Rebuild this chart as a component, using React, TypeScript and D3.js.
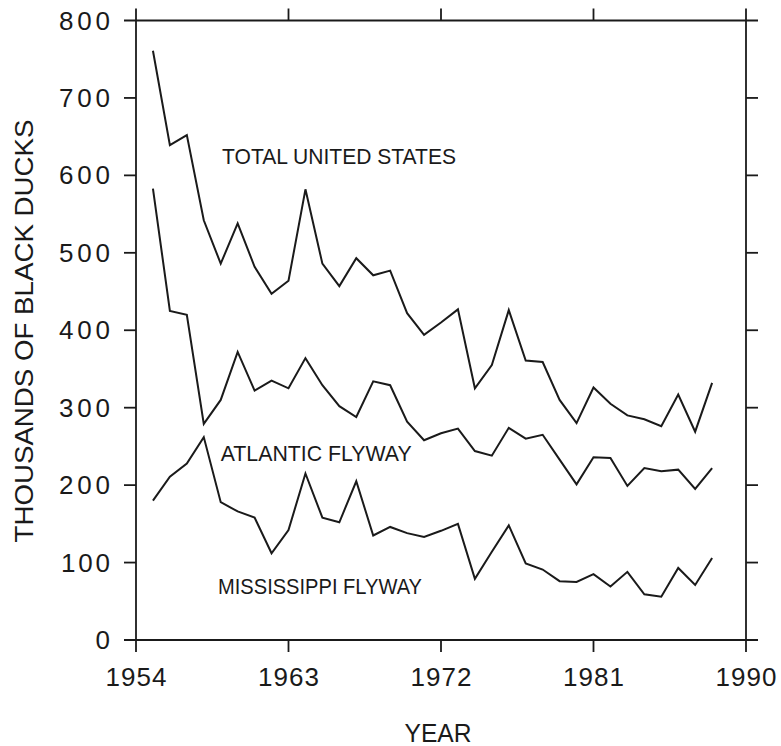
import React from "react";
import * as d3 from "d3";

const years = d3.range(1955, 1989);
const totalUS = [761, 639, 652, 542, 486, 538, 482, 447, 464, 582, 486, 457, 493, 471, 477, 422, 394, 410, 427, 325, 355, 426, 361, 359, 310, 280, 326, 305, 290, 285, 276, 317, 269, 332];
const atlantic = [583, 425, 420, 279, 310, 372, 322, 335, 325, 364, 329, 302, 288, 334, 329, 282, 258, 267, 273, 244, 238, 274, 260, 265, 233, 201, 236, 235, 199, 222, 218, 220, 195, 222];
const mississippi = [180, 211, 228, 262, 178, 166, 158, 112, 142, 215, 158, 152, 205, 135, 146, 138, 133, 141, 150, 79, 114, 148, 99, 91, 76, 75, 85, 69, 88, 59, 56, 93, 71, 106];
const xTicks = [1954, 1963, 1972, 1981, 1990];
const yTicks = [0, 100, 200, 300, 400, 500, 600, 700, 800];

const seriesLabels = [
  { text: "TOTAL UNITED STATES", x: 1959.08, y: 615, len: 234 },
  { text: "ATLANTIC FLYWAY", x: 1959.0, y: 231, len: 191 },
  { text: "MISSISSIPPI FLYWAY", x: 1958.84, y: 59, len: 204 },
];

export default function App() {
  const W = 781, H = 746;
  const x = d3.scaleLinear().domain([1954, 1990]).range([136, 746]);
  const y = d3.scaleLinear().domain([0, 800]).range([640, 20.5]);
  const line = d3.line<number>().x((_, i) => x(years[i])).y((d) => y(d));
  const font = "'Liberation Sans', Arial, Helvetica, sans-serif";
  const ink = "#1a1a1a";
  const ext = 12;
  const [x0, x1] = x.range();
  const [yb, yt] = y.range();
  return (
    <svg width={W} height={H} style={{ position: "absolute", left: 0, top: 0, background: "#fff" }} fontFamily={font}>
      <rect width={W} height={H} fill="#fff" />
      {/* frame with extended corners */}
      <g stroke={ink} strokeWidth={1.8} fill="none">
        <line x1={x0} x2={x0} y1={yt - ext} y2={yb + ext} />
        <line x1={x1} x2={x1} y1={yt - ext} y2={yb + ext} />
        <line x1={x0 - ext} x2={x1 + ext} y1={yt} y2={yt} />
        <line x1={x0 - ext} x2={x1 + ext} y1={yb} y2={yb} />
        {yTicks.slice(1, -1).map((t) => (
          <g key={"yt" + t}>
            <line x1={x0 - ext} x2={x0} y1={y(t)} y2={y(t)} />
            <line x1={x1} x2={x1 + ext} y1={y(t)} y2={y(t)} />
          </g>
        ))}
        {xTicks.slice(1, -1).map((t) => (
          <g key={"xt" + t}>
            <line x1={x(t)} x2={x(t)} y1={yb} y2={yb + ext} />
            <line x1={x(t)} x2={x(t)} y1={yt - ext} y2={yt} />
          </g>
        ))}
      </g>
      {/* tick labels */}
      <g fill={ink} fontSize={26}>
        {yTicks.map((t) => (
          <text key={"yl" + t} x={110} y={y(t) + 9} textAnchor="end"
            {...(t > 0 ? { textLength: t === 100 ? 49 : 51, lengthAdjust: "spacing" } : {})}>
            {t}
          </text>
        ))}
        {xTicks.map((t) => (
          <text key={"xl" + t} x={x(t)} y={686} textAnchor="middle" textLength={61} lengthAdjust="spacing">
            {t}
          </text>
        ))}
      </g>
      {/* axis titles */}
      <text x={438} y={742} textAnchor="middle" fontSize={25} fill={ink} textLength={67} lengthAdjust="spacingAndGlyphs">YEAR</text>
      <text transform="translate(33,331) rotate(-90)" textAnchor="middle" fontSize={25} fill={ink} textLength={423} lengthAdjust="spacingAndGlyphs">
        THOUSANDS OF BLACK DUCKS
      </text>
      {/* series */}
      <g fill="none" stroke={ink} strokeWidth={2} strokeLinejoin="miter">
        <path d={line(totalUS) || ""} />
        <path d={line(atlantic) || ""} />
        <path d={line(mississippi) || ""} />
      </g>
      <g fill={ink} fontSize={22}>
        {seriesLabels.map((s) => (
          <text key={s.text} x={x(s.x)} y={y(s.y)} textLength={s.len} lengthAdjust="spacingAndGlyphs">
            {s.text}
          </text>
        ))}
      </g>
    </svg>
  );
}
